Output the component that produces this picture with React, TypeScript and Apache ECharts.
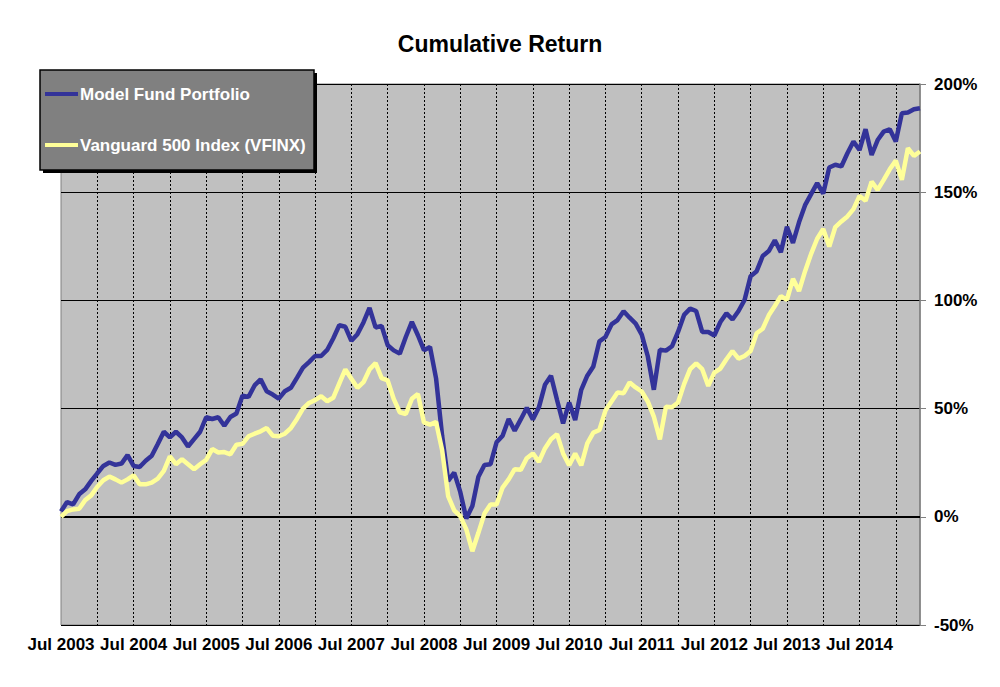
import React, { useEffect, useRef } from "react";
import * as echarts from "echarts";

const MONTH_NAMES = ["Jan", "Feb", "Mar", "Apr", "May", "Jun", "Jul", "Aug", "Sep", "Oct", "Nov", "Dec"];
const START_YEAR = 2003;
const START_MONTH = 6; // Jul
const MONTH_COUNT = 143;

const categories: string[] = [];
for (let k = 0; k < MONTH_COUNT; k++) {
  const m = (START_MONTH + k) % 12;
  const y = START_YEAR + Math.floor((START_MONTH + k) / 12);
  categories.push(`${MONTH_NAMES[m]} ${y}`);
}

const modelFund: number[] = [
  2.5, 6.8, 5.7, 10.4, 12.7, 16.6, 20.1, 23.5, 25.1, 24, 24.6, 28.5,
  23.5, 23, 25.9, 28.2, 33.6, 39.3, 36.7, 39.3, 36.7, 32.5, 35.9, 39.3,
  46, 45.2, 46, 42.1, 46.1, 47.7, 56, 55.4, 60.7, 63.5, 58, 56.5,
  54.6, 58, 59.6, 64.2, 68.9, 71.5, 74.3, 74.3, 77.1, 82.4, 88.5, 87.8,
  81.3, 84.4, 89.8, 96.5, 87.5, 88.2, 79.3, 76.9, 75.4, 83.1, 90.1, 83.9,
  77, 78.5, 64, 37.5, 16.6, 20.4, 11.5, -0.8, 5, 18.5, 23.9, 24.3,
  34.4, 37.5, 45.2, 39.8, 45, 50.4, 45, 50.6, 61, 65.2, 54, 43.2,
  52.8, 44.7, 58.7, 65.2, 69.5, 81.1, 83.1, 88.9, 90.9, 95, 92, 89.3,
  84.2, 74.2, 58.7, 77.2, 76.8, 78.8, 85.4, 93.3, 96.2, 95.1, 85.4, 85.4,
  83.8, 90, 94, 91.2, 95.1, 100.2, 111.2, 113.5, 120.5, 122.8, 127.8, 122.3,
  134, 126.6, 136.1, 144, 149.1, 154.2, 149.4, 161.4, 162.7, 161.9, 168, 173.4,
  169.5, 179.1, 167.2, 174.1, 178, 179.1, 173.4, 186.5, 186.8, 188.3, 188.8,
];

const vanguard500: number[] = [
  0, 2.6, 3.4, 3.7, 7.7, 9.9, 13.9, 16.9, 18.6, 17.3, 15.8, 17.3,
  19.2, 15, 15, 15.8, 17.6, 21.2, 27.9, 24.3, 26.6, 24.3, 22, 24.3,
  26.3, 31.3, 29.7, 29.9, 28.9, 33.3, 33.7, 37.2, 38.4, 39.5, 41, 37.5,
  37.2, 38.4, 41, 45.2, 50, 52.6, 53.9, 55.7, 53.4, 55, 61.6, 68.1,
  63.8, 59.6, 62.2, 68.1, 71, 64.1, 63, 54.5, 48.3, 47.5, 54.5, 56.8,
  43.6, 42.6, 43.8, 30.9, 9.6, 3, 0.3, -5.8, -15.9, -7.4, 1.5, 5.7,
  5.7, 13.5, 17.3, 22, 21.7, 27.1, 29.3, 25.4, 31.6, 35.8, 38.2, 29.3,
  23.8, 29.3, 23.8, 33.9, 38.9, 40.1, 49.1, 53.3, 57.4, 57.1, 62.1, 59.8,
  57.9, 53.3, 46.3, 35.8, 50.9, 50.6, 52.8, 61.3, 68.2, 70.9, 68.2, 60.5,
  66.6, 68.5, 72.8, 76.6, 73.1, 74.3, 76.6, 84.8, 86.9, 93.1, 97.4, 102,
  100.2, 110, 104.3, 113.5, 121.5, 128.5, 133, 124.9, 133.9, 136.5, 138.8, 142.2,
  148.3, 146, 154.9, 151.1, 155.7, 160.6, 164.6, 155.7, 170.3, 166.8, 168.8,
];

const yTicks = { min: -50, max: 200, interval: 50 };
const FONT = '"Liberation Sans", Arial, Helvetica, sans-serif';

export default function App() {
  const ref = useRef<HTMLDivElement>(null);

  useEffect(() => {
    if (!ref.current) return;
    const chart = echarts.init(ref.current, undefined, { renderer: "svg" });
    chart.setOption({
      animation: false,
      backgroundColor: "#ffffff",
      title: {
        text: "Cumulative Return",
        left: "center",
        top: 27,
        textStyle: { fontFamily: FONT, fontWeight: "bold", fontSize: 23, color: "#000" },
      },
      grid: {
        left: 61,
        right: 80,
        top: 84,
        bottom: 62,
        show: true,
        backgroundColor: "#c0c0c0",
        borderColor: "#808080",
        borderWidth: 1,
      },
      legend: {
        orient: "vertical",
        left: 45,
        top: 84,
        z: 100,
        padding: 0,
        itemGap: 31,
        itemWidth: 33,
        itemHeight: 4,
        icon: "rect",
        selectedMode: false,
        textStyle: {
          fontFamily: FONT,
          fontWeight: "bold",
          fontSize: 17,
          color: "#ffffff",
          lineHeight: 20,
          padding: [0, 0, 0, -3],
        },
        data: ["Model Fund Portfolio", "Vanguard 500 Index (VFINX)"],
      },
      graphic: {
        elements: [
          {
            type: "rect",
            z: 50,
            shape: { x: 43, y: 73, width: 274, height: 100 },
            style: { fill: "#000000" },
          },
          {
            type: "rect",
            z: 51,
            shape: { x: 40, y: 70, width: 274, height: 100 },
            style: { fill: "#808080", stroke: "#000000", lineWidth: 1.5 },
          },
        ],
      },
      xAxis: {
        type: "category",
        boundaryGap: false,
        data: categories,
        axisLine: { show: false },
        axisTick: { show: false },
        axisLabel: {
          interval: (index: number) => index % 12 === 0,
          margin: 11,
          fontFamily: FONT,
          fontWeight: "bold",
          fontSize: 17,
          color: "#000",
        },
        splitLine: {
          show: true,
          interval: (index: number) => index % 6 === 0 && index > 0,
          lineStyle: { color: "#000", width: 1, type: [2, 2] },
        },
      },
      yAxis: {
        type: "value",
        position: "right",
        min: yTicks.min,
        max: yTicks.max,
        interval: yTicks.interval,
        axisLine: { show: true, lineStyle: { color: "#808080", width: 1.5 } },
        axisTick: { show: true, length: 6, lineStyle: { color: "#808080" } },
        axisLabel: {
          formatter: "{value}%",
          margin: 14,
          fontFamily: FONT,
          fontWeight: "bold",
          fontSize: 17,
          color: "#000",
        },
        splitLine: { show: true, lineStyle: { color: "#000", width: 1 } },
      },
      series: [
        {
          name: "Model Fund Portfolio",
          type: "line",
          data: modelFund,
          showSymbol: false,
          symbol: "none",
          lineStyle: { color: "#333399", width: 4.5 },
          itemStyle: { color: "#333399" },
          markLine: {
            silent: true,
            symbol: "none",
            label: { show: false },
            lineStyle: { color: "#000", width: 2, type: "solid" },
            data: [{ yAxis: 0 }],
            z: 1,
          },
        },
        {
          name: "Vanguard 500 Index (VFINX)",
          type: "line",
          data: vanguard500,
          showSymbol: false,
          symbol: "none",
          lineStyle: { color: "#ffff99", width: 4.5 },
          itemStyle: { color: "#ffff99" },
        },
      ],
    });
    return () => chart.dispose();
  }, []);

  return (
    <div
      ref={ref}
      style={{ position: "fixed", left: 0, top: 0, width: 1000, height: 687 }}
    />
  );
}
